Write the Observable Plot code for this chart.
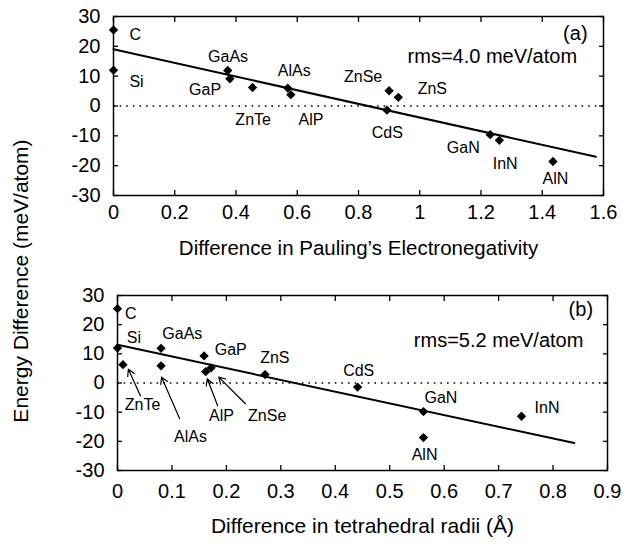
<!DOCTYPE html>
<html>
<head>
<meta charset="utf-8">
<script src="https://cdn.jsdelivr.net/npm/d3@7"></script>
<script src="https://cdn.jsdelivr.net/npm/@observablehq/plot@0.6"></script>
<style>
  body { margin: 0; background: white; }
  #wrap { position: relative; width: 623px; height: 545px; font-family: "Liberation Sans", Arial, sans-serif; }
  #wrap svg { display: block; }
  #ytitle { position: absolute; left: -179px; top: 270px; width: 400px; text-align: center; font-size: 21px; transform: rotate(-90deg); transform-origin: 200px 50%; line-height: 22px; }
</style>
</head>
<body>
<div id="wrap">
  <div id="ytitle">Energy Difference (meV/atom)</div>
</div>
<script>
// ---- Data: panel (a) Pauling electronegativity difference ----
const compounds = ["C", "Si", "GaAs", "GaP", "ZnTe", "AlAs", "AlP", "ZnSe", "ZnS", "CdS", "GaN", "InN", "AlN"];
const energy     = [25.5, 12.0, 11.9, 9.1, 6.2, 6.0, 3.8, 5.1, 2.9, -1.4, -9.6, -11.5, -18.6];
const paulingDiff = [0, 0, 0.373, 0.38, 0.454, 0.569, 0.579, 0.90, 0.93, 0.893, 1.23, 1.26, 1.435];
// ---- Data: panel (b) tetrahedral radii difference ----
const compoundsB = ["C", "Si", "ZnTe", "GaAs", "AlAs", "GaP", "AlP", "ZnSe", "ZnS", "CdS", "GaN", "AlN", "InN"];
const energyB    = [25.5, 12.0, 6.3, 11.9, 5.9, 9.3, 3.9, 5.2, 2.9, -1.4, -9.8, -18.7, -11.4];
const radiiDiff  = [0, 0, 0.01, 0.08, 0.08, 0.159, 0.162, 0.172, 0.271, 0.441, 0.562, 0.562, 0.742];

// fitted lines (endpoints in data units)
const fitAx = [0, 1.575], fitAy = [19.0, -17.0];
const fitBx = [0, 0.839], fitBy = [13.1, -20.6];

// tick values
const xTicksA = [0, 0.2, 0.4, 0.6, 0.8, 1, 1.2, 1.4, 1.6];
const xTicksB = [0, 0.1, 0.2, 0.3, 0.4, 0.5, 0.6, 0.7, 0.8, 0.9];
const yTicks = [-30, -20, -10, 0, 10, 20, 30];

// label anchors (data units)
const labelsA = [
  {t: "C", x: 0.052, y: 24.0, a: "start"},
  {t: "Si", x: 0.052, y: 8.2, a: "start"},
  {t: "GaAs", x: 0.374, y: 16.6, a: "middle"},
  {t: "GaP", x: 0.299, y: 5.4, a: "middle"},
  {t: "ZnTe", x: 0.456, y: -4.7, a: "middle"},
  {t: "AlAs", x: 0.590, y: 11.8, a: "middle"},
  {t: "AlP", x: 0.645, y: -4.7, a: "middle"},
  {t: "ZnSe", x: 0.815, y: 9.8, a: "middle"},
  {t: "ZnS", x: 1.041, y: 5.7, a: "middle"},
  {t: "CdS", x: 0.894, y: -9.1, a: "middle"},
  {t: "GaN", x: 1.142, y: -13.9, a: "middle"},
  {t: "InN", x: 1.279, y: -19.3, a: "middle"},
  {t: "AlN", x: 1.443, y: -24.3, a: "middle"}
];
const notesA = [
  {t: "(a)", x: 1.508, y: 24.2},
  {t: "rms=4.0 meV/atom", x: 1.237, y: 16.6}
];
const labelsB = [
  {t: "C", x: 0.014, y: 23.8, a: "start"},
  {t: "Si", x: 0.017, y: 15.4, a: "start"},
  {t: "GaAs", x: 0.119, y: 16.9, a: "middle"},
  {t: "GaP", x: 0.208, y: 11.2, a: "middle"},
  {t: "ZnS", x: 0.289, y: 8.5, a: "middle"},
  {t: "CdS", x: 0.443, y: 4.1, a: "middle"},
  {t: "GaN", x: 0.594, y: -5.0, a: "middle"},
  {t: "InN", x: 0.789, y: -8.4, a: "middle"},
  {t: "AlN", x: 0.564, y: -24.7, a: "middle"},
  {t: "ZnTe", x: 0.046, y: -7.5, a: "middle"},
  {t: "AlAs", x: 0.134, y: -18.3, a: "middle"},
  {t: "AlP", x: 0.191, y: -11.2, a: "middle"},
  {t: "ZnSe", x: 0.275, y: -11.2, a: "middle"}
];
const notesB = [
  {t: "(b)", x: 0.851, y: 25.1},
  {t: "rms=5.2 meV/atom", x: 0.700, y: 14.6}
];
// arrows in panel (b): tail (x1,y1) -> head (x2,y2), data units
const arrowsB = [
  {x1: 0.042, y1: -4.4, x2: 0.020, y2: 4.7},
  {x1: 0.114, y1: -12.2, x2: 0.081, y2: 2.0},
  {x1: 0.184, y1: -7.8, x2: 0.165, y2: 1.4},
  {x1: 0.235, y1: -7.1, x2: 0.186, y2: 2.0}
];

const FONT = "Liberation Sans, Arial, Helvetica, sans-serif";

function panel({xs, ys, names, fx, fy, xTicks, xDomain, xTitle, labels, notes, arrows, height, marginTop, marginBottom, tickLabelDy, titleDy, titleSize}) {
  const pts = names.map((n, i) => ({n, x: xs[i], y: ys[i]}));
  const fit = fx.map((x, i) => ({x, y: fy[i]}));
  const marks = [
    Plot.ruleY([0], {strokeDasharray: "1.6,5", strokeWidth: 1.6}),
    Plot.frame({strokeWidth: 1.5}),
    Plot.axisX(xTicks, {anchor: "bottom", tickSize: -5, tickPadding: 5 + tickLabelDy, tickFormat: d => String(d), label: null, fontSize: 20, strokeWidth: 1.3}),
    Plot.axisX(xTicks, {anchor: "top", tickSize: -5, tickFormat: () => "", label: null, strokeWidth: 1.3}),
    Plot.axisY(yTicks, {anchor: "left", tickSize: -5, tickPadding: 18, tickFormat: d => String(d), label: null, fontSize: 20, strokeWidth: 1.3}),
    Plot.axisY(yTicks, {anchor: "right", tickSize: -5, tickFormat: () => "", label: null, strokeWidth: 1.3}),
    Plot.line(fit, {x: "x", y: "y", strokeWidth: 2}),
    Plot.dot(pts, {x: "x", y: "y", symbol: "diamond2", r: 4.2, fill: "black", stroke: "none"}),
    Plot.text(labels.filter(d => d.a === "start"), {x: "x", y: "y", text: "t", textAnchor: "start", fontSize: 16}),
    Plot.text(labels.filter(d => d.a === "middle"), {x: "x", y: "y", text: "t", textAnchor: "middle", fontSize: 16}),
    Plot.text(notes, {x: "x", y: "y", text: "t", textAnchor: "middle", fontSize: 20}),
    Plot.text([xTitle], {frameAnchor: "bottom", dy: titleDy, text: d => d, fontSize: titleSize})
  ];
  if (arrows) marks.push(Plot.arrow(arrows, {x1: "x1", y1: "y1", x2: "x2", y2: "y2", headLength: 9, strokeWidth: 1.2}));
  return Plot.plot({
    width: 623, height,
    marginLeft: 113 + (xDomain[1] === 0.9 ? 4 : 0), marginRight: xDomain[1] === 0.9 ? 16 : 20,
    marginTop, marginBottom,
    style: {fontFamily: FONT, fontSize: "19px", background: "white", color: "black", overflow: "visible"},
    x: {domain: xDomain},
    y: {domain: [-30, 30]},
    marks
  });
}

const wrap = document.getElementById("wrap");
wrap.appendChild(panel({
  xs: paulingDiff, ys: energy, names: compounds, fx: fitAx, fy: fitAy,
  xTicks: xTicksA, xDomain: [0, 1.6], xTitle: "Difference in Pauling\u2019s Electronegativity",
  labels: labelsA, notes: notesA, height: 270, marginTop: 16, marginBottom: 75, tickLabelDy: 9, titleDy: 59, titleSize: 20.5
}));
wrap.appendChild(panel({
  xs: radiiDiff, ys: energyB, names: compoundsB, fx: fitBx, fy: fitBy,
  xTicks: xTicksB, xDomain: [0, 0.9], xTitle: "Difference in tetrahedral radii (\u00C5)",
  labels: labelsB, notes: notesB, arrows: arrowsB, height: 275, marginTop: 25, marginBottom: 75, tickLabelDy: 13, titleDy: 62, titleSize: 21
}));
</script>
</body>
</html>
